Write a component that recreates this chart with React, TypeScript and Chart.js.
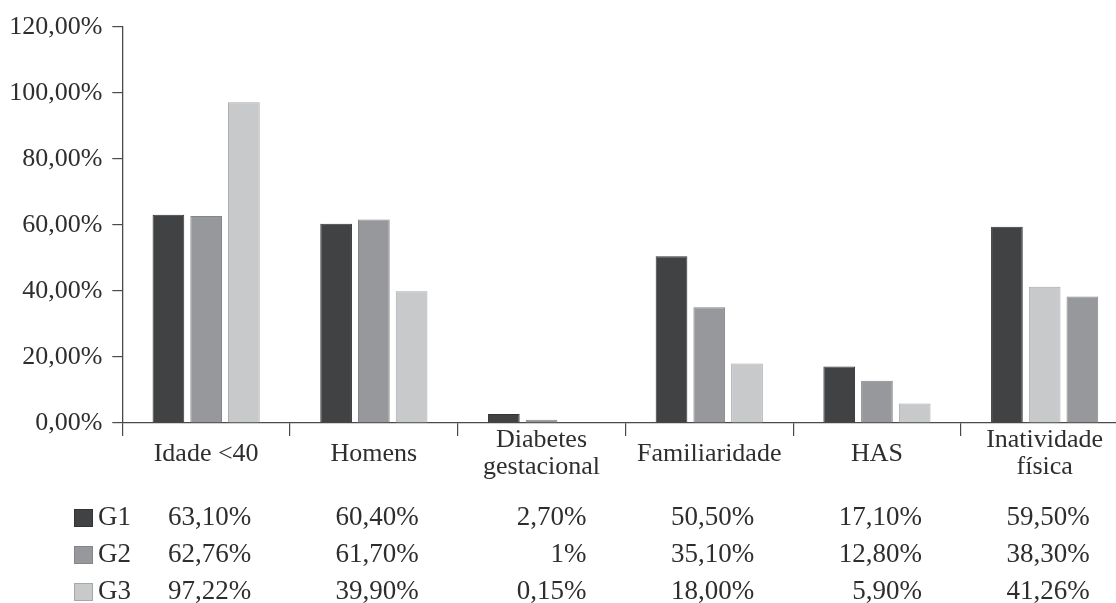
import React, { useEffect, useRef } from "react";
import { Chart, registerables } from "chart.js";

Chart.register(...registerables);

// ---- data ----
const categories: string[][] = [
  ["Idade <40"],
  ["Homens"],
  ["Diabetes", "gestacional"],
  ["Familiaridade"],
  ["HAS"],
  ["Inatividade", "física"],
];
const seriesNames = ["G1", "G2", "G3"];
const g1 = [63.1, 60.4, 2.7, 50.5, 17.1, 59.5];
const g2 = [62.76, 61.7, 1, 35.1, 12.8, 38.3];
const g3 = [97.22, 39.9, 0.15, 18.0, 5.9, 41.26];
const g1Labels = ["63,10%", "60,40%", "2,70%", "50,50%", "17,10%", "59,50%"];
const g2Labels = ["62,76%", "61,70%", "1%", "35,10%", "12,80%", "38,30%"];
const g3Labels = ["97,22%", "39,90%", "0,15%", "18,00%", "5,90%", "41,26%"];
// In the original figure the last group draws G3 before G2
const swappedGroups = [5];
const yTicks = { min: 0, max: 120, step: 20 };

// ---- styles ----
const FONT = "'Liberation Serif', 'Times New Roman', serif";
const TEXT = "#2e2e2e";
const AXIS = "#4a4a4a";
const fills = ["#414244", "#97989c", "#c8c9cb"];
const borders = ["#333436", "#85868a", "#a6a7a9"];

export default function App() {
  const ref = useRef<HTMLCanvasElement | null>(null);

  useEffect(() => {
    if (!ref.current) return;
    const labels = [g1Labels, g2Labels, g3Labels];

    const sw = (i: number) => swappedGroups.includes(i);
    const slot2Data = categories.map((_, i) => (sw(i) ? g3[i] : g2[i]));
    const slot3Data = categories.map((_, i) => (sw(i) ? g2[i] : g3[i]));
    const slot2Fill = categories.map((_, i) => (sw(i) ? fills[2] : fills[1]));
    const slot3Fill = categories.map((_, i) => (sw(i) ? fills[1] : fills[2]));
    const slot2Border = categories.map((_, i) => (sw(i) ? borders[2] : borders[1]));
    const slot3Border = categories.map((_, i) => (sw(i) ? borders[1] : borders[2]));

    const tablePlugin = {
      id: "tablePlugin",
      afterDraw(chart: any) {
        const ctx = chart.ctx as CanvasRenderingContext2D;
        const xs = chart.scales.x;
        const base = chart.chartArea.bottom;
        ctx.save();
        ctx.font = `27px ${FONT}`;
        ctx.textBaseline = "middle";
        seriesNames.forEach((name, r) => {
          const y = base + 95 + r * 37;
          ctx.fillStyle = fills[r];
          ctx.fillRect(74, y - 9, 19, 18);
          ctx.strokeStyle = borders[r];
          ctx.lineWidth = 1;
          ctx.strokeRect(74.5, y - 8.5, 18, 17);
          ctx.fillStyle = TEXT;
          ctx.textAlign = "left";
          ctx.fillText(name, 98, y);
          ctx.textAlign = "right";
          labels[r].forEach((t, i) => {
            ctx.fillText(t, xs.getPixelForValue(i) + 45, y);
          });
        });
        ctx.restore();
      },
    };

    const chart = new Chart(ref.current, {
      type: "bar",
      data: {
        labels: categories,
        datasets: [
          { label: "G1", data: g1, backgroundColor: fills[0], borderColor: borders[0], borderWidth: 1 },
          { label: "G2", data: slot2Data, backgroundColor: slot2Fill, borderColor: slot2Border, borderWidth: 1 },
          { label: "G3", data: slot3Data, backgroundColor: slot3Fill, borderColor: slot3Border, borderWidth: 1 },
        ],
      },
      options: {
        responsive: false,
        animation: false,
        devicePixelRatio: 1,
        layout: { padding: { left: 0, right: 11.5, top: 27, bottom: 0 } },
        datasets: { bar: { barPercentage: 0.84, categoryPercentage: 0.675 } },
        plugins: { legend: { display: false }, tooltip: { enabled: false } },
        scales: {
          x: {
            grid: { display: true, offset: true, drawOnChartArea: false, tickLength: 13, color: AXIS, lineWidth: 1.2 },
            border: { display: true, color: AXIS, width: 1.3 },
            ticks: {
              color: TEXT,
              font: { family: FONT, size: 26, lineHeight: 1.06 },
              padding: 4,
              maxRotation: 0,
              autoSkip: false,
              crossAlign: "center",
            },
            afterFit(scale: any) {
              scale.height = 180;
            },
          },
          y: {
            min: yTicks.min,
            max: yTicks.max,
            grid: { display: true, drawOnChartArea: false, tickLength: 10, color: AXIS, lineWidth: 1.2 },
            border: { display: true, color: AXIS, width: 1.3 },
            ticks: {
              stepSize: yTicks.step,
              color: TEXT,
              font: { family: FONT, size: 26 },
              padding: 10,
              callback: (v: any) => Number(v).toFixed(2).replace(".", ",") + "%",
            },
            afterFit(scale: any) {
              scale.width = 122.3;
            },
          },
        },
      },
      plugins: [tablePlugin],
    } as any);
    return () => chart.destroy();
  }, []);

  return (
    <div
      style={{
        position: "fixed",
        left: 0,
        top: 0,
        width: 1116,
        height: 603,
        overflow: "hidden",
        background: "#fff",
      }}
    >
      <canvas ref={ref} width={1140} height={603} style={{ display: "block" }} />
    </div>
  );
}
